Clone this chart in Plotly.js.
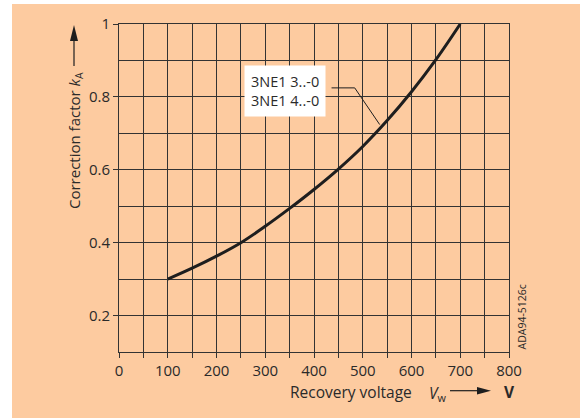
<!DOCTYPE html>
<html>
<head>
<meta charset="utf-8">
<script src="https://cdn.plot.ly/plotly-3.0.1.min.js"></script>
<style>html,body{margin:0;padding:0;background:#fff;}#chart{width:587px;height:419px;}</style>
</head>
<body>
<div id="chart"></div>
<script>
// Data
const recoveryVoltage = [100, 150, 200, 250, 300, 350, 400, 450, 500, 550, 600, 650, 700];
const correctionFactor = [0.300, 0.330, 0.363, 0.400, 0.445, 0.494, 0.546, 0.602, 0.664, 0.735, 0.814, 0.902, 1.0];
const xTickVals = [0, 50, 100, 150, 200, 250, 300, 350, 400, 450, 500, 550, 600, 650, 700, 750, 800];
const xTickText = ['0', '', '100', '', '200', '', '300', '', '400', '', '500', '', '600', '', '700', '', '800'];
const yTickVals = [0.2, 0.4, 0.6, 0.8, 1];
const yTickText = ['0.2', '0.4', '0.6', '0.8', '1'];
const seriesLabel = '3NE1 3..-0<br>3NE1 4..-0';

const W = 587, H = 419;
const L = 119, R = 509, T = 24, B = 352;
const px = x => (x - L) / (R - L);
const py = y => (B - y) / (B - T);

const FONT = 'Open Sans, Noto Sans, sans-serif';
const TXT = '#2a2a2a';
const GRID = '#333333';

const trace = {
  x: recoveryVoltage, y: correctionFactor, type: 'scatter', mode: 'lines',
  line: {color: '#1e1e1e', width: 3, shape: 'spline', smoothing: 1},
  hoverinfo: 'skip', showlegend: false
};

const layout = {
  width: W, height: H,
  margin: {l: L, r: W - R, t: T, b: H - B, pad: 0},
  paper_bgcolor: '#ffffff',
  plot_bgcolor: '#ffffff',
  font: {family: FONT, size: 14, color: TXT},
  showlegend: false,
  xaxis: {
    range: [0, 800], tickmode: 'array', tickvals: xTickVals, ticktext: xTickText,
    ticks: 'outside', ticklen: 5, tickwidth: 1, tickcolor: GRID,
    showgrid: true, gridcolor: GRID, gridwidth: 1,
    showline: true, linecolor: GRID, linewidth: 1, mirror: true,
    zeroline: false, fixedrange: true,
    tickfont: {family: FONT, size: 15, color: TXT}
  },
  yaxis: {
    range: [0.1, 1], tickmode: 'array', tickvals: yTickVals, ticktext: yTickText,
    ticks: 'outside', ticklen: 5, tickwidth: 1, tickcolor: GRID,
    showgrid: true, gridcolor: GRID, gridwidth: 1,
    minor: {dtick: 0.1, tick0: 0.1, showgrid: true, gridcolor: GRID, gridwidth: 1, ticks: ''},
    showline: true, linecolor: GRID, linewidth: 1, mirror: true,
    zeroline: false, fixedrange: true, ticklabelstandoff: 0,
    tickfont: {family: FONT, size: 15, color: TXT}
  },
  shapes: [
    // orange panel background
    {type: 'rect', xref: 'paper', yref: 'paper', layer: 'below',
     x0: px(12), x1: px(580), y0: py(418), y1: py(4),
     fillcolor: '#FDCBA0', line: {width: 0}},
    // leader line from label to curve
    {type: 'path', xref: 'x', yref: 'y', layer: 'above',
     path: 'M 436,0.8247 L 483.5,0.8247 L 534.8,0.724',
     line: {color: '#1e1e1e', width: 1}},
    // y title arrow line
    {type: 'line', xref: 'paper', yref: 'paper', x0: px(74), x1: px(74), y0: py(66), y1: py(38),
     line: {color: '#1e1e1e', width: 1.2}},
    // y title arrow head
    {type: 'path', xref: 'paper', yref: 'paper',
     path: `M ${px(74)},${py(25)} L ${px(70)},${py(41)} L ${px(78)},${py(41)} Z`,
     fillcolor: '#1e1e1e', line: {width: 0}},
    // x title arrow line
    {type: 'line', xref: 'paper', yref: 'paper', x0: px(450), x1: px(480), y0: py(390.7), y1: py(390.7),
     line: {color: '#1e1e1e', width: 1.2}},
    // x title arrow head
    {type: 'path', xref: 'paper', yref: 'paper',
     path: `M ${px(491)},${py(390.7)} L ${px(477)},${py(387)} L ${px(477)},${py(394.4)} Z`,
     fillcolor: '#1e1e1e', line: {width: 0}}
  ],
  annotations: [
    {text: seriesLabel, xref: 'x', yref: 'y', x: 340, y: 0.815, showarrow: false,
     xanchor: 'center', yanchor: 'middle',
     align: 'left', bgcolor: '#ffffff', borderpad: 6,
     font: {family: FONT, size: 14.5, color: TXT}},
    {text: 'Correction factor <i>k</i><sub>A</sub>', xref: 'paper', yref: 'paper',
     x: px(75), y: py(141), xanchor: 'center', yanchor: 'middle', textangle: -90, showarrow: false,
     font: {family: FONT, size: 15, color: TXT}},
    {text: 'Recovery voltage', xref: 'paper', yref: 'paper',
     x: px(288), y: py(391.5), xanchor: 'left', yanchor: 'middle', showarrow: false,
     font: {family: FONT, size: 15.5, color: TXT}},
    {text: '<i>V</i><sub>w</sub>', xref: 'paper', yref: 'paper',
     x: px(427), y: py(393), xanchor: 'left', yanchor: 'middle', showarrow: false,
     font: {family: FONT, size: 15.5, color: TXT}},
    {text: '<b>V</b>', xref: 'paper', yref: 'paper',
     x: px(502), y: py(391.5), xanchor: 'left', yanchor: 'middle', showarrow: false,
     font: {family: FONT, size: 15.5, color: TXT}},
    {text: 'ADA94-5126c', xref: 'paper', yref: 'paper',
     x: px(521), y: py(317.5), xanchor: 'center', yanchor: 'middle', textangle: -90, showarrow: false,
     font: {family: FONT, size: 10.5, color: TXT}}
  ]
};

Plotly.newPlot('chart', [trace], layout, {staticPlot: true, displayModeBar: false});
</script>
</body>
</html>
